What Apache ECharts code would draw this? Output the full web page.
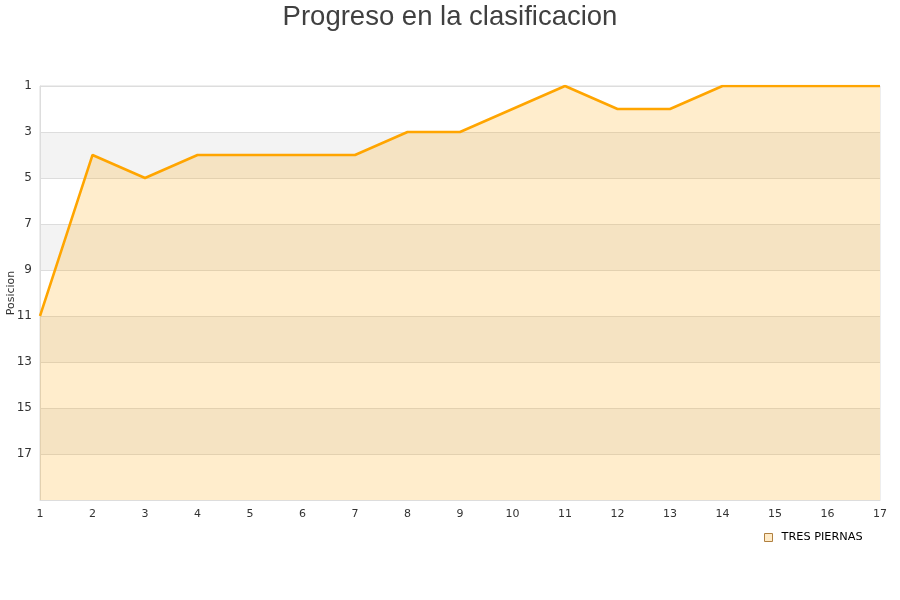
<!DOCTYPE html>
<html><head><meta charset="utf-8">
<script src="https://cdn.jsdelivr.net/npm/echarts@6/dist/echarts.min.js"></script>
<style>html,body{margin:0;padding:0;background:#fff}#c{width:900px;height:600px}</style>
</head><body><div id="c"></div>
<script>
var jornadas = ['1','2','3','4','5','6','7','8','9','10','11','12','13','14','15','16','17'];
var posiciones = [11,4,5,4,4,4,4,3,3,2,1,2,2,1,1,1,1];
var seriesName = 'TRES PIERNAS';
var chart = echarts.init(document.getElementById('c'));
chart.setOption({
  animation: false,
  backgroundColor: '#fff',
  title: { text: 'Progreso en la clasificacion', left: 'center', top: -2,
    textStyle: { fontFamily: 'Liberation Sans, Arial, sans-serif', fontSize: 27.5, fontWeight: 'normal', color: '#404040' } },
  grid: { left: 40, right: 20, top: 86, bottom: 100, containLabel: false, outerBoundsMode: 'none',
    show: true, borderColor: '#dddddd', borderWidth: 1, backgroundColor: 'transparent' },
  legend: { data: [{ name: seriesName, icon: 'rect', itemStyle: { color: '#ffebc8', borderColor: '#b08040', borderWidth: 1 } }],
    left: 759, top: 527, itemWidth: 8, itemHeight: 8, itemGap: 10,
    textStyle: { fontFamily: 'DejaVu Sans, sans-serif', fontSize: 11.3, color: '#000', padding: [0, 0, 0, 4] } },
  xAxis: { type: 'category', data: jornadas, boundaryGap: false,
    axisLine: { lineStyle: { color: '#dddddd' } }, axisTick: { show: false },
    axisLabel: { color: '#333', fontFamily: 'DejaVu Sans, sans-serif', fontSize: 11, margin: 9 },
    splitLine: { show: false } },
  yAxis: { type: 'value', inverse: true, min: 1, max: 19, interval: 2,
    name: 'Posicion', nameLocation: 'middle', nameGap: 23, nameRotate: 90, nameMoveOverlap: false,
    nameTextStyle: { color: '#333', fontFamily: 'DejaVu Sans, sans-serif', fontSize: 11 },
    axisLine: { show: true, lineStyle: { color: '#dddddd' } }, axisTick: { show: false },
    axisLabel: { color: '#333', fontFamily: 'DejaVu Sans, sans-serif', fontSize: 12, margin: 8,
      formatter: function (v) { return v === 19 ? '' : String(v); } },
    splitLine: { lineStyle: { color: '#dddddd' } },
    splitArea: { show: true, areaStyle: { color: ['#ffffff', '#f3f3f3'] } } },
  series: [{ name: seriesName, type: 'line', data: posiciones, symbol: 'none',
    lineStyle: { color: '#ffa500', width: 2.5 },
    itemStyle: { color: '#ffebc8', borderColor: '#ffa500' },
    areaStyle: { color: 'rgba(255,165,0,0.2)', opacity: 1, origin: 'end' } }]
});
</script></body></html>
